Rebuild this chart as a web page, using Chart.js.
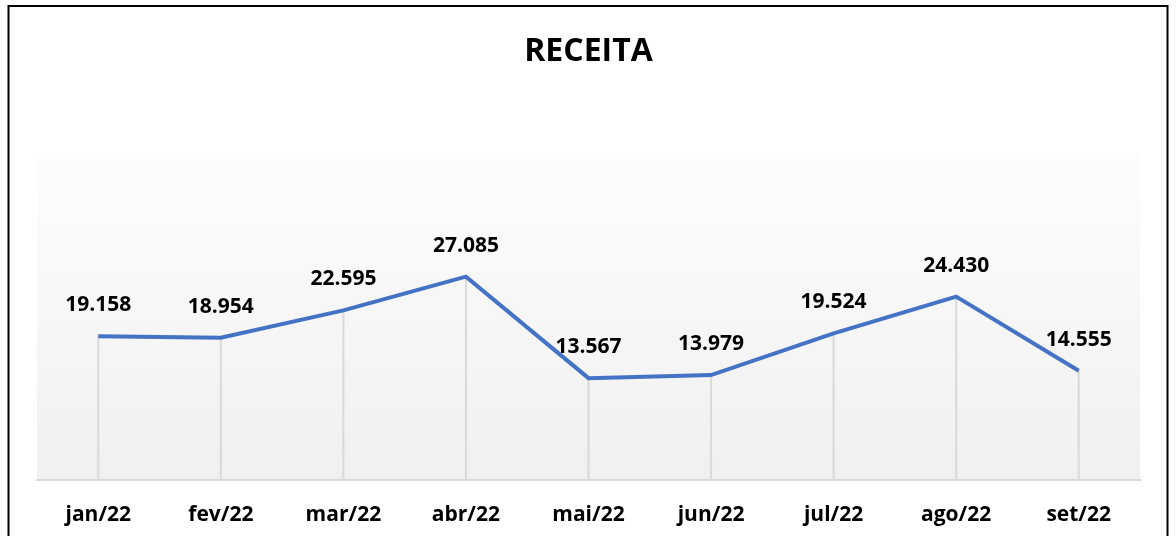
<!DOCTYPE html>
<html>
<head>
<meta charset="utf-8">
<script src="https://cdn.jsdelivr.net/npm/chart.js@4"></script>
<style>
  html, body { margin: 0; padding: 0; background: #ffffff; overflow: hidden; }
  canvas { display: block; }
</style>
</head>
<body>
<canvas id="receita-chart" width="1176" height="536"></canvas>
<script>
// valores
var months = ["jan/22", "fev/22", "mar/22", "abr/22", "mai/22", "jun/22", "jul/22", "ago/22", "set/22"];
var receita = [19158, 18954, 22595, 27085, 13567, 13979, 19524, 24430, 14555];

function formatBR(v)
{
    return v.toLocaleString('pt-BR');
}

// fundo com degrade so na area do grafico
var plotBackground = {
    id: 'plotBackground',
    beforeDraw: function (chart) {
        var ctx = chart.ctx, a = chart.chartArea;
        var g = ctx.createLinearGradient(0, a.top, 0, a.bottom);
        g.addColorStop(0, '#fdfdfd');
        g.addColorStop(1, '#f0f0f0');
        ctx.save();
        ctx.fillStyle = g;
        ctx.fillRect(a.left, a.top, a.right - a.left, a.bottom - a.top);
        ctx.restore();
    }
};

// linhas verticais de cada ponto ate o eixo
var dropLines = {
    id: 'dropLines',
    beforeDatasetsDraw: function (chart) {
        var ctx = chart.ctx, a = chart.chartArea;
        var meta = chart.getDatasetMeta(0);
        ctx.save();
        ctx.strokeStyle = '#d9d9d9';
        ctx.lineWidth = 2;
        meta.data.forEach(function (pt) {
            ctx.beginPath();
            ctx.moveTo(pt.x, pt.y);
            ctx.lineTo(pt.x, a.bottom);
            ctx.stroke();
        });
        ctx.restore();
    }
};

// rotulos de valor acima dos pontos
var valueLabels = {
    id: 'valueLabels',
    afterDatasetsDraw: function (chart) {
        var ctx = chart.ctx;
        var meta = chart.getDatasetMeta(0);
        ctx.save();
        ctx.font = 'bold 21px "Open Sans"';
        ctx.fillStyle = '#000000';
        ctx.textAlign = 'center';
        ctx.textBaseline = 'middle';
        meta.data.forEach(function (pt, i) {
            ctx.fillText(formatBR(receita[i]), pt.x, pt.y - 31);
        });
        ctx.restore();
    }
};

// moldura preta em volta do grafico
var frame = {
    id: 'frame',
    afterDraw: function (chart) {
        var ctx = chart.ctx;
        ctx.save();
        ctx.strokeStyle = '#000000';
        ctx.lineWidth = 2;
        ctx.strokeRect(8.5, 6, 1159, 600);
        ctx.restore();
    }
};

var canvas = document.getElementById('receita-chart');
var chart = new Chart(canvas, {
    type: 'line',
    data: {
        labels: months,
        datasets: [{
            data: receita,
            borderColor: '#4472c4',
            borderWidth: 4,
            pointRadius: 0,
            tension: 0,
            fill: false
        }]
    },
    options: {
        responsive: false,
        animation: false,
        layout: {padding: {left: 37, right: 36, top: 0, bottom: 0}},
        plugins: {
            legend: {display: false},
            tooltip: {enabled: false},
            title: {
                display: true,
                text: 'RECEITA',
                color: '#000000',
                font: {family: '"Open Sans"', size: 32, weight: 'bold', lineHeight: 1.2},
                padding: {top: 33, bottom: 82}
            }
        },
        scales: {
            x: {
                offset: true,
                grid: {display: false, drawTicks: false},
                border: {display: true, color: '#d9d9d9', width: 2},
                ticks: {
                    color: '#000000',
                    font: {family: '"Open Sans"', size: 21, weight: 'bold', lineHeight: 1.2},
                    padding: 22,
                    autoSkip: false,
                    maxRotation: 0
                },
                afterFit: function (scale) {
                    scale.height = 56;
                }
            },
            y: {
                display: false,
                min: 0,
                max: 43500
            }
        }
    },
    plugins: [plotBackground, dropLines, valueLabels, frame]
});
</script>
</body>
</html>
